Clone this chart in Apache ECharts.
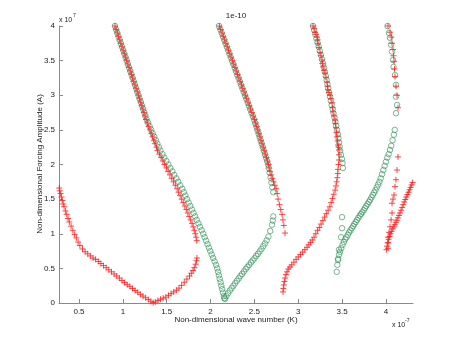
<!DOCTYPE html>
<html><head><meta charset="utf-8">
<script src="https://cdn.jsdelivr.net/npm/echarts@6/dist/echarts.min.js"></script>
<style>html,body{margin:0;padding:0;background:#fff}#c{width:457px;height:342px}</style>
</head><body><div id="c"></div>
<script>
// x values in units of 1e-7, y values in units of 1e7
const xTickValues = [0.5, 1, 1.5, 2, 2.5, 3, 3.5, 4];
const titleText = '1e-10';
const xName = 'Non-dimensional wave number (K)';
const yName = 'Non-dimensional Forcing Amplitude (A)';

// red "+" branches
const redLeftV = [[0.275,1.66],[0.28,1.62],[0.29,1.58],[0.30,1.53],[0.31,1.48],[0.32,1.43],[0.33,1.39],[0.345,1.33],[0.36,1.28],[0.375,1.22],[0.39,1.17],[0.41,1.11],[0.43,1.05],[0.45,0.99],[0.47,0.94],[0.49,0.88],[0.51,0.83],[0.54,0.78],[0.57,0.74],[0.60,0.71],[0.63,0.68],[0.66,0.65],[0.69,0.63],[0.72,0.60],[0.75,0.57],[0.78,0.54],[0.81,0.51],[0.84,0.48],[0.87,0.45],[0.90,0.42],[0.93,0.39],[0.96,0.36],[0.99,0.325],[1.02,0.295],[1.05,0.265],[1.08,0.24],[1.11,0.21],[1.14,0.18],[1.17,0.155],[1.20,0.125],[1.23,0.10],[1.26,0.075],[1.29,0.05],[1.32,0.025],[1.345,0.005],[1.37,0.015],[1.40,0.035],[1.43,0.055],[1.46,0.07],[1.49,0.085],[1.52,0.11],[1.55,0.135],[1.58,0.16],[1.61,0.185],[1.64,0.215],[1.67,0.255],[1.70,0.30],[1.73,0.345],[1.76,0.39],[1.78,0.43],[1.80,0.47],[1.815,0.51],[1.83,0.56],[1.84,0.61],[1.845,0.65]];
const redDesc1 = [[0.910,4.00],[0.923,3.95],[0.937,3.90],[0.950,3.85],[0.964,3.80],[0.977,3.75],[0.990,3.70],[1.004,3.65],[1.017,3.60],[1.031,3.55],[1.044,3.50],[1.057,3.45],[1.071,3.40],[1.084,3.35],[1.098,3.30],[1.111,3.25],[1.124,3.20],[1.138,3.15],[1.151,3.10],[1.165,3.05],[1.178,3.00],[1.190,2.95],[1.203,2.90],[1.215,2.85],[1.228,2.80],[1.240,2.75],[1.252,2.70],[1.264,2.65],[1.279,2.60],[1.294,2.55],[1.309,2.50],[1.324,2.45],[1.339,2.40],[1.354,2.35],[1.368,2.30],[1.383,2.25],[1.395,2.20],[1.416,2.15],[1.436,2.10],[1.456,2.05],[1.476,2.00],[1.497,1.95],[1.516,1.90],[1.537,1.85],[1.558,1.80],[1.578,1.75],[1.598,1.70],[1.619,1.65],[1.635,1.60],[1.653,1.55],[1.671,1.50],[1.689,1.45],[1.707,1.40],[1.724,1.35],[1.741,1.30],[1.757,1.25],[1.773,1.20],[1.789,1.15],[1.802,1.10],[1.815,1.05],[1.826,1.00],[1.835,0.95],[1.843,0.90]];
const redDesc2 = [[2.101,4.00],[2.116,3.95],[2.131,3.90],[2.145,3.85],[2.160,3.80],[2.175,3.75],[2.190,3.70],[2.205,3.65],[2.219,3.60],[2.234,3.55],[2.249,3.50],[2.264,3.45],[2.279,3.40],[2.293,3.35],[2.308,3.30],[2.323,3.25],[2.338,3.20],[2.353,3.15],[2.367,3.10],[2.382,3.05],[2.397,3.00],[2.412,2.95],[2.427,2.90],[2.441,2.85],[2.456,2.80],[2.471,2.75],[2.486,2.70],[2.501,2.65],[2.514,2.60],[2.526,2.55],[2.538,2.50],[2.551,2.45],[2.563,2.40],[2.575,2.35],[2.587,2.30],[2.600,2.25],[2.612,2.20],[2.624,2.15],[2.637,2.10],[2.649,2.05],[2.661,2.00],[2.668,1.95],[2.677,1.90],[2.690,1.85],[2.703,1.80],[2.718,1.75],[2.733,1.70],[2.748,1.65],[2.760,1.58],[2.770,1.50],[2.785,1.42],[2.800,1.35],[2.815,1.28],[2.825,1.20],[2.835,1.12],[2.849,1.01]];
const redAsc2 = [[2.826,0.16],[2.830,0.21],[2.835,0.26],[2.842,0.31],[2.850,0.36],[2.860,0.41],[2.872,0.45],[2.886,0.49],[2.905,0.52],[2.925,0.55],[2.950,0.59],[2.975,0.63],[3.000,0.665],[3.025,0.70],[3.050,0.735],[3.075,0.77],[3.100,0.805],[3.120,0.84],[3.140,0.875],[3.160,0.91],[3.180,0.95],[3.200,1.00],[3.220,1.05],[3.240,1.09],[3.260,1.14],[3.280,1.19],[3.300,1.24],[3.320,1.29],[3.340,1.34],[3.360,1.39],[3.375,1.45],[3.390,1.51],[3.405,1.57],[3.420,1.63],[3.430,1.69],[3.438,1.75],[3.445,1.81],[3.450,1.87],[3.453,1.93],[3.459,2.00],[3.465,2.065],[3.465,2.14],[3.465,2.21],[3.459,2.25],[3.453,2.28],[3.447,2.34],[3.442,2.40],[3.436,2.46],[3.430,2.53],[3.424,2.59],[3.419,2.64],[3.407,2.70],[3.396,2.76],[3.390,2.82],[3.385,2.89],[3.373,2.95],[3.362,3.00],[3.350,3.04],[3.339,3.08],[3.333,3.13],[3.328,3.19],[3.316,3.26],[3.305,3.32],[3.293,3.36],[3.282,3.41],[3.276,3.46],[3.270,3.51],[3.259,3.57],[3.248,3.62],[3.237,3.69],[3.225,3.75],[3.220,3.80],[3.214,3.84],[3.202,3.88],[3.191,3.91],[3.180,3.96],[3.168,4.00]];
const redDesc4 = [[4.023,4.00],[4.046,3.91],[4.060,3.84],[4.069,3.75],[4.080,3.66],[4.086,3.57],[4.092,3.49],[4.097,3.38],[4.103,3.27],[4.114,3.13],[4.126,3.00],[4.137,2.82],[4.137,2.11],[4.126,1.92],[4.114,1.78],[4.103,1.68],[4.092,1.56],[4.080,1.50],[4.069,1.44],[4.069,1.30],[4.058,1.20],[4.046,1.10],[4.035,1.02],[4.023,0.95],[4.023,0.87],[4.023,0.79]];
const redAsc4 = [[4.005,0.77],[4.012,0.82],[4.020,0.87],[4.030,0.92],[4.040,0.96],[4.052,1.00],[4.064,1.035],[4.076,1.07],[4.088,1.10],[4.100,1.13],[4.112,1.165],[4.124,1.195],[4.136,1.23],[4.148,1.265],[4.160,1.30],[4.172,1.34],[4.184,1.38],[4.196,1.42],[4.208,1.46],[4.220,1.495],[4.232,1.53],[4.244,1.565],[4.256,1.60],[4.268,1.635],[4.280,1.67],[4.292,1.705],[4.304,1.74]];

// green "o" branches
const greenDesc1 = [[0.910,4.00],[0.923,3.95],[0.937,3.90],[0.950,3.85],[0.964,3.80],[0.977,3.75],[0.990,3.70],[1.004,3.65],[1.017,3.60],[1.031,3.55],[1.044,3.50],[1.057,3.45],[1.071,3.40],[1.084,3.35],[1.098,3.30],[1.111,3.25],[1.124,3.20],[1.138,3.15],[1.151,3.10],[1.165,3.05],[1.178,3.00],[1.191,2.95],[1.205,2.90],[1.218,2.85],[1.232,2.80],[1.245,2.75],[1.258,2.70],[1.272,2.65],[1.289,2.60],[1.306,2.55],[1.324,2.50],[1.341,2.45],[1.359,2.40],[1.376,2.35],[1.393,2.30],[1.411,2.25],[1.428,2.20],[1.451,2.15],[1.473,2.10],[1.496,2.05],[1.518,2.00],[1.541,1.95],[1.564,1.90],[1.586,1.85],[1.609,1.80],[1.631,1.75],[1.654,1.70],[1.677,1.65],[1.695,1.60],[1.713,1.55],[1.732,1.50],[1.750,1.45],[1.769,1.40],[1.787,1.35],[1.806,1.30],[1.824,1.25],[1.842,1.20],[1.861,1.15],[1.879,1.10],[1.898,1.05],[1.916,1.00],[1.932,0.95],[1.948,0.90],[1.965,0.85],[1.981,0.80],[1.997,0.75],[2.013,0.70],[2.029,0.65],[2.046,0.60],[2.062,0.55],[2.076,0.50],[2.086,0.45],[2.095,0.40],[2.104,0.35],[2.114,0.30],[2.123,0.25],[2.132,0.20],[2.141,0.15],[2.151,0.10],[2.157,0.07]];
const greenAsc1 = [[2.165,0.06],[2.18,0.10],[2.20,0.14],[2.22,0.18],[2.24,0.215],[2.26,0.25],[2.28,0.285],[2.30,0.32],[2.32,0.355],[2.34,0.39],[2.36,0.42],[2.38,0.455],[2.40,0.49],[2.42,0.52],[2.44,0.55],[2.46,0.585],[2.48,0.615],[2.50,0.645],[2.52,0.68],[2.54,0.71],[2.56,0.745],[2.58,0.78],[2.60,0.82],[2.62,0.86],[2.64,0.905],[2.66,0.96],[2.68,1.04],[2.70,1.13],[2.71,1.19],[2.715,1.25]];
const greenDesc2 = [[2.096,4.00],[2.111,3.95],[2.126,3.90],[2.140,3.85],[2.155,3.80],[2.170,3.75],[2.185,3.70],[2.200,3.65],[2.214,3.60],[2.229,3.55],[2.244,3.50],[2.259,3.45],[2.274,3.40],[2.288,3.35],[2.303,3.30],[2.318,3.25],[2.333,3.20],[2.348,3.15],[2.362,3.10],[2.377,3.05],[2.392,3.00],[2.407,2.95],[2.422,2.90],[2.436,2.85],[2.451,2.80],[2.466,2.75],[2.481,2.70],[2.496,2.65],[2.509,2.60],[2.521,2.55],[2.533,2.50],[2.546,2.45],[2.558,2.40],[2.570,2.35],[2.582,2.30],[2.595,2.25],[2.607,2.20],[2.619,2.15],[2.632,2.10],[2.644,2.05],[2.656,2.00],[2.663,1.95],[2.673,1.88],[2.684,1.81],[2.694,1.74],[2.704,1.67],[2.715,1.60]];
const greenDesc3 = [[3.168,4.00],[3.181,3.94],[3.194,3.88],[3.206,3.82],[3.219,3.76],[3.232,3.70],[3.245,3.64],[3.257,3.58],[3.270,3.52],[3.283,3.46],[3.294,3.40],[3.303,3.34],[3.313,3.28],[3.323,3.22],[3.333,3.16],[3.342,3.10],[3.352,3.04],[3.361,2.98],[3.371,2.92],[3.381,2.86],[3.392,2.80],[3.402,2.74],[3.413,2.68],[3.423,2.62],[3.432,2.56],[3.442,2.50],[3.451,2.44],[3.458,2.38],[3.465,2.32],[3.471,2.26],[3.477,2.20],[3.487,2.14],[3.497,2.08],[3.504,2.02],[3.509,1.95],[3.499,1.24],[3.499,1.08],[3.488,0.95],[3.465,0.77],[3.453,0.62]];
const greenAsc3 = [[3.438,0.45],[3.445,0.55],[3.455,0.64],[3.465,0.70],[3.476,0.74],[3.49,0.79],[3.505,0.84],[3.52,0.88],[3.535,0.92],[3.55,0.95],[3.565,0.985],[3.58,1.02],[3.595,1.05],[3.61,1.08],[3.625,1.11],[3.64,1.14],[3.655,1.17],[3.67,1.20],[3.685,1.23],[3.70,1.26],[3.715,1.285],[3.73,1.31],[3.745,1.34],[3.76,1.37],[3.775,1.40],[3.79,1.43],[3.805,1.46],[3.82,1.49],[3.835,1.525],[3.85,1.56],[3.865,1.595],[3.88,1.63],[3.895,1.67],[3.91,1.71],[3.925,1.75],[3.94,1.80],[3.955,1.86],[3.97,1.92],[3.985,1.98],[4.00,2.04],[4.015,2.10],[4.03,2.15],[4.045,2.21],[4.06,2.27],[4.075,2.35],[4.09,2.43],[4.10,2.50]];
const greenDesc4 = [[4.018,4.00],[4.034,3.90],[4.046,3.83],[4.057,3.73],[4.069,3.63],[4.080,3.51],[4.086,3.41],[4.103,3.29],[4.114,3.15],[4.114,2.98],[4.126,2.86],[4.114,2.74]];

const redData = [].concat(redLeftV, redDesc1, redDesc2, redAsc2, redDesc4, redAsc4);
const greenData = [].concat(greenDesc1, greenAsc1, greenDesc2, greenDesc3, greenAsc3, greenDesc4);

const FONT = 'Liberation Sans, Arial, sans-serif';
const chart = echarts.init(document.getElementById('c'), null, {renderer: 'canvas'});
const fmt = v => String(Math.round(v * 10) / 10);
chart.setOption({
  animation: false,
  backgroundColor: '#fff',
  grid: {left: 59, right: 44, top: 26, bottom: 39, containLabel: false},
  xAxis: {
    type: 'value', min: 0.272, max: 4.308,
    axisLine: {show: true, lineStyle: {color: '#8a8a8a', width: 1}},
    axisTick: {show: true, inside: true, length: 4, customValues: xTickValues, lineStyle: {color: '#8a8a8a'}},
    axisLabel: {show: true, customValues: xTickValues, formatter: fmt, margin: 5, color: '#222', fontSize: 8, fontFamily: FONT},
    splitLine: {show: false}
  },
  yAxis: {
    type: 'value', min: 0, max: 4, interval: 0.5,
    axisLine: {show: true, lineStyle: {color: '#8a8a8a', width: 1}},
    axisTick: {show: true, inside: true, length: 4, lineStyle: {color: '#8a8a8a'}},
    axisLabel: {show: true, formatter: fmt, margin: 4, color: '#222', fontSize: 8, fontFamily: FONT},
    splitLine: {show: false}
  },
  series: [
    {
      type: 'scatter', data: greenData, symbol: 'circle', symbolSize: 5.5, z: 2,
      itemStyle: {color: 'rgba(0,0,0,0)', borderColor: '#2a8f55', borderWidth: 0.8}
    },
    {
      type: 'scatter', data: redData, symbol: 'path://M0,5L10,5M5,0L5,10', symbolSize: 6, z: 3,
      itemStyle: {color: 'rgba(0,0,0,0)', borderColor: '#ff1a1a', borderWidth: 1}
    }
  ],
  graphic: [
    {type: 'text', style: {text: titleText, x: 236, y: 16, fill: '#222', font: '8px ' + FONT, textAlign: 'center', textVerticalAlign: 'middle'}},
    {type: 'text', style: {text: xName, x: 236, y: 320, fill: '#222', font: '8px ' + FONT, textAlign: 'center', textVerticalAlign: 'middle'}},
    {type: 'text', rotation: Math.PI / 2, x: 40, y: 164, style: {text: yName, x: 0, y: 0, fill: '#222', font: '8px ' + FONT, textAlign: 'center', textVerticalAlign: 'middle'}},
    {type: 'text', style: {text: 'x 10', x: 59, y: 20, fill: '#222', font: '7px ' + FONT, textVerticalAlign: 'middle'}},
    {type: 'text', style: {text: '7', x: 73, y: 16, fill: '#222', font: '5px ' + FONT, textVerticalAlign: 'middle'}},
    {type: 'text', style: {text: 'x 10', x: 392, y: 325, fill: '#222', font: '7px ' + FONT, textVerticalAlign: 'middle'}},
    {type: 'text', style: {text: '-7', x: 405, y: 321, fill: '#222', font: '5px ' + FONT, textVerticalAlign: 'middle'}}
  ]
});
</script></body></html>
